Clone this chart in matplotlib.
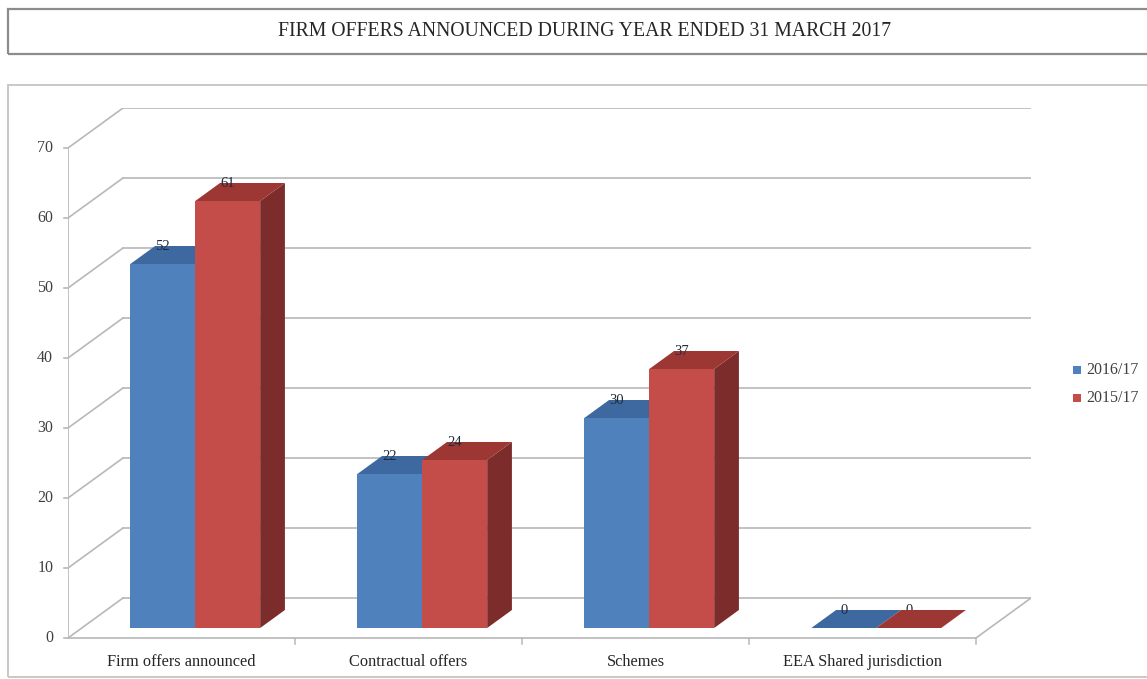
import matplotlib
matplotlib.use("Agg")
import matplotlib.pyplot as plt
from matplotlib.patches import Polygon, Rectangle

# ---- data ----
categories = ["Firm offers announced", "Contractual offers", "Schemes", "EEA Shared jurisdiction"]
series_names = ["2016/17", "2015/17"]
values_2016_17 = [52, 22, 30, 0]
values_2015_17 = [61, 24, 37, 0]
y_ticks = [0, 10, 20, 30, 40, 50, 60, 70]
title = "FIRM OFFERS ANNOUNCED DURING YEAR ENDED 31 MARCH 2017"

# ---- style ----
FONT = ["Liberation Serif", "DejaVu Serif"]
plt.rcParams["font.family"] = FONT
W_PX, H_PX = 1147, 679
GRID = "#b8b8b8"
face_cols = [("#4f81bd", "#3d69a0", "#365b88"),   # front, top, side
             ("#c44d4a", "#9c3734", "#7c2c2a")]

fig = plt.figure(figsize=(W_PX / 100, H_PX / 100), dpi=100)


def fx(px):
    return px / W_PX


def fy(py):
    return 1 - py / H_PX


# outer boxes (title frame and chart frame)
fig.patches.append(Rectangle((fx(8), fy(54)), fx(1160 - 8), fy(9) - fy(54),
                             transform=fig.transFigure, fill=False,
                             edgecolor="#8c8c8c", linewidth=1.6))
fig.patches.append(Rectangle((fx(8), fy(677)), fx(1160 - 8), fy(85) - fy(677),
                             transform=fig.transFigure, fill=False,
                             edgecolor="#c8c8c8", linewidth=1.4))
fig.text(fx(585), fy(31), title, ha="center", va="center",
         fontsize=14.2, color="#262626")

# plot area: front plane spans the 4 categories, depth adds an oblique offset
n = len(categories)
DX = 0.2423          # depth offset along x (category units)
DY = 5.714           # depth offset along y (value units)
ymax = 70
ax = fig.add_axes([fx(68), fy(638), fx(1031) - fx(68), fy(108) - fy(638)])
ax.set_xlim(-0.5, n - 0.5 + DX)
ax.set_ylim(0, ymax + DY)
ax.axis("off")


def P(x, v, d):
    return (x + d * DX, v + d * DY)


# back wall gridlines and left wall diagonals
x0, x1 = -0.5, n - 0.5
for t in y_ticks:
    ax.plot([x0 + DX, x1 + DX], [t + DY, t + DY], color=GRID, lw=1.2, zorder=1)
    ax.plot([x0, x0 + DX], [t, t + DY], color=GRID, lw=1.2, zorder=1)
    ax.plot([x0 - 0.018, x0], [t, t], color=GRID, lw=1.2, zorder=1, clip_on=False)
    ax.text(x0 - 0.065, t, str(t), ha="right", va="center", fontsize=11.5,
            color="#404040")
# front vertical axis and floor outline
ax.plot([x0, x0], [0, ymax], color=GRID, lw=1.2, zorder=1)
ax.plot([x0, x1], [0, 0], color=GRID, lw=1.2, zorder=1, clip_on=False)
ax.plot([x1, x1 + DX], [0, DY], color=GRID, lw=1.2, zorder=1)
for b in range(1, n + 1):
    ax.plot([b - 0.5, b - 0.5], [0, -0.8], color=GRID, lw=1.1, zorder=1,
            clip_on=False)

# category labels on the front edge of the floor
for i, c in enumerate(categories):
    ax.text(i, -3.4, c, ha="center", va="center", fontsize=11.8,
            color="#262626", clip_on=False)

# 3-D style bars
BW = 0.286
D0, D1 = 0.25, 0.70
z = 3
for i in range(n):
    for s, vals in enumerate([values_2016_17, values_2015_17]):
        v = vals[i]
        front, top, side = face_cols[s]
        xl = i - BW + s * BW
        xr = xl + BW
        side_poly = [P(xr, 0, D0), P(xr, 0, D1), P(xr, v, D1), P(xr, v, D0)]
        top_poly = [P(xl, v, D0), P(xr, v, D0), P(xr, v, D1), P(xl, v, D1)]
        front_poly = [P(xl, 0, D0), P(xr, 0, D0), P(xr, v, D0), P(xl, v, D0)]
        ax.add_patch(Polygon(side_poly, closed=True, facecolor=side,
                             edgecolor="none", zorder=z))
        ax.add_patch(Polygon(top_poly, closed=True, facecolor=top,
                             edgecolor="none", zorder=z + 0.1))
        if v > 0:
            ax.add_patch(Polygon(front_poly, closed=True, facecolor=front,
                                 edgecolor="none", zorder=z + 0.2))
        lx = (xl + xr) / 2 + D0 * DX
        ly = v + D1 * DY
        ax.text(lx, ly - 0.1, str(v), ha="center", va="center",
                fontsize=10.5, color="#1f2a3a", zorder=10)
        z += 1

# legend
for k, name in enumerate(series_names):
    yc = 370 + 28 * k
    fig.patches.append(Rectangle((fx(1073), fy(yc + 4)), fx(8), fy(yc - 4) - fy(yc + 4),
                                 transform=fig.transFigure,
                                 facecolor=face_cols[k][0], edgecolor="none"))
    fig.text(fx(1086), fy(yc), name, ha="left", va="center", fontsize=11.5,
             color="#404040")

fig.savefig("out.png", dpi=100)
